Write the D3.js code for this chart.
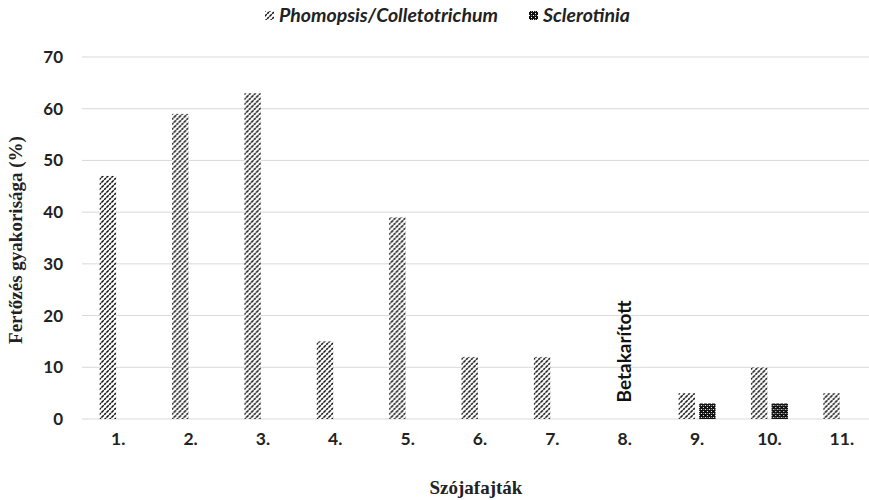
<!DOCTYPE html>
<html>
<head>
<meta charset="utf-8">
<script src="https://cdn.jsdelivr.net/npm/d3@7"></script>
<style>
  body { margin: 0; background: #fff; }
  svg { display: block; }
</style>
</head>
<body>
<svg width="869" height="500"></svg>
<script>
// --- data ---
const varieties  = ["1.", "2.", "3.", "4.", "5.", "6.", "7.", "8.", "9.", "10.", "11."];
const seriesKeys = ["Phomopsis/Colletotrichum", "Sclerotinia"];
const phomopsis  = [47, 59, 63, 15, 39, 12, 12, null, 5, 10, 5];
const sclerotinia = [null, null, null, null, null, null, null, null, 3, 3, null];
const yTicks     = [0, 10, 20, 30, 40, 50, 60, 70];
const harvestedIdx = 7;   // 8. variety: "Betakarított"

const svg = d3.select("svg");
const margin = {left: 82, right: -9, top: 57, bottom: 81};
const plotW = 869 - margin.left - margin.right;   // 796
const plotH = 500 - margin.top - margin.bottom;   // 362

const rows = varieties.map((v, i) => ({ v, vals: [phomopsis[i], sclerotinia[i]] }));

// patterns
const defs = svg.append("defs");
const hatch = defs.append("pattern")
  .attr("id", "hatch").attr("patternUnits", "userSpaceOnUse")
  .attr("width", 5).attr("height", 5);
hatch.append("rect").attr("width", 5).attr("height", 5).attr("fill", "#fff");
hatch.append("path").attr("d", "M-1,1 L1,-1 M0,5 L5,0 M4,6 L6,4")
  .attr("stroke", "#111").attr("stroke-width", 1.5).attr("stroke-dasharray", "2.4,0.7");

const checker = defs.append("pattern")
  .attr("id", "checker").attr("patternUnits", "userSpaceOnUse")
  .attr("width", 4).attr("height", 4);
checker.append("rect").attr("width", 4).attr("height", 4).attr("fill", "#111");
checker.append("rect").attr("x", 0).attr("y", 0).attr("width", 1).attr("height", 1).attr("fill", "#fff");
checker.append("rect").attr("x", 2).attr("y", 2).attr("width", 1).attr("height", 1).attr("fill", "#fff");
checker.append("rect").attr("x", 2).attr("y", 0).attr("width", 1).attr("height", 1).attr("fill", "#888");
const fills = ["url(#hatch)", "url(#checker)"];

const g = svg.append("g").attr("transform", `translate(${margin.left},${margin.top})`);

const x0 = d3.scaleBand().domain(varieties).range([0, plotW]).padding(0);
const x1 = d3.scaleBand().domain(seriesKeys).range([0, x0.bandwidth()])
  .paddingInner(0.2).paddingOuter(0.86);
const y = d3.scaleLinear().domain([0, 70]).range([plotH, 0]);

// gridlines
g.append("g").selectAll("line").data(yTicks).enter().append("line")
  .attr("x1", 0).attr("x2", plotW)
  .attr("y1", d => y(d)).attr("y2", d => y(d))
  .attr("stroke", "#d9d9d9").attr("stroke-width", 1);

// y axis labels
const yAxis = g.append("g").call(d3.axisLeft(y).tickValues(yTicks).tickSize(0).tickPadding(19));
yAxis.select(".domain").remove();
yAxis.selectAll("text")
  .attr("font-family", "Lato, 'Open Sans', sans-serif")
  .attr("font-weight", "bold").attr("font-size", 17).attr("fill", "#222");

// x axis labels
const xAxis = g.append("g").attr("transform", `translate(0,${plotH})`)
  .call(d3.axisBottom(x0).tickSize(0).tickPadding(14));
xAxis.select(".domain").remove();
xAxis.selectAll("text")
  .attr("font-family", "Lato, 'Open Sans', sans-serif")
  .attr("font-weight", "bold").attr("font-size", 17.5).attr("fill", "#222");

// bars
const groups = g.append("g").selectAll("g").data(rows).enter().append("g")
  .attr("transform", d => `translate(${x0(d.v)},0)`);
groups.selectAll("rect")
  .data(d => d.vals.map((val, k) => ({ key: seriesKeys[k], k, val })).filter(e => e.val != null))
  .enter().append("rect")
  .attr("x", d => x1(d.key))
  .attr("width", x1.bandwidth())
  .attr("y", d => y(d.val))
  .attr("height", d => plotH - y(d.val))
  .attr("fill", d => fills[d.k]);

// "Betakarított" annotation
const hx = x0(varieties[harvestedIdx]) + x0.bandwidth() / 2 + 6;
g.append("text")
  .attr("transform", `translate(${hx},${y(3.2)}) rotate(-90)`)
  .attr("font-family", "Lato, 'Open Sans', sans-serif")
  .attr("font-weight", "bold").attr("font-size", 19).attr("fill", "#111")
  .text("Betakarított");

// axis titles
svg.append("text")
  .attr("transform", `translate(22,${margin.top + plotH / 2 + 2}) rotate(-90)`)
  .attr("text-anchor", "middle")
  .attr("font-family", "'Liberation Serif', 'Times New Roman', serif")
  .attr("font-weight", "bold").attr("font-size", 19).attr("fill", "#222")
  .text("Fertőzés gyakorisága (%)");

svg.append("text")
  .attr("x", 476).attr("y", 494)
  .attr("text-anchor", "middle")
  .attr("font-family", "'Liberation Serif', 'Times New Roman', serif")
  .attr("font-weight", "bold").attr("font-size", 19).attr("fill", "#222")
  .text("Szójafajták");

// legend
const legendX = [265, 529];
const legend = svg.append("g").selectAll("g").data(seriesKeys).enter().append("g")
  .attr("transform", (d, i) => `translate(${legendX[i]},11)`);
legend.append("rect").attr("width", 9).attr("height", 9)
  .attr("fill", (d, i) => fills[i]);
legend.append("text")
  .attr("x", 14).attr("y", 10.5)
  .attr("font-family", "Lato, 'Open Sans', sans-serif")
  .attr("font-weight", "bold").attr("font-style", "italic")
  .attr("font-size", 19.5).attr("fill", "#222")
  .text(d => d);
</script>
</body>
</html>
